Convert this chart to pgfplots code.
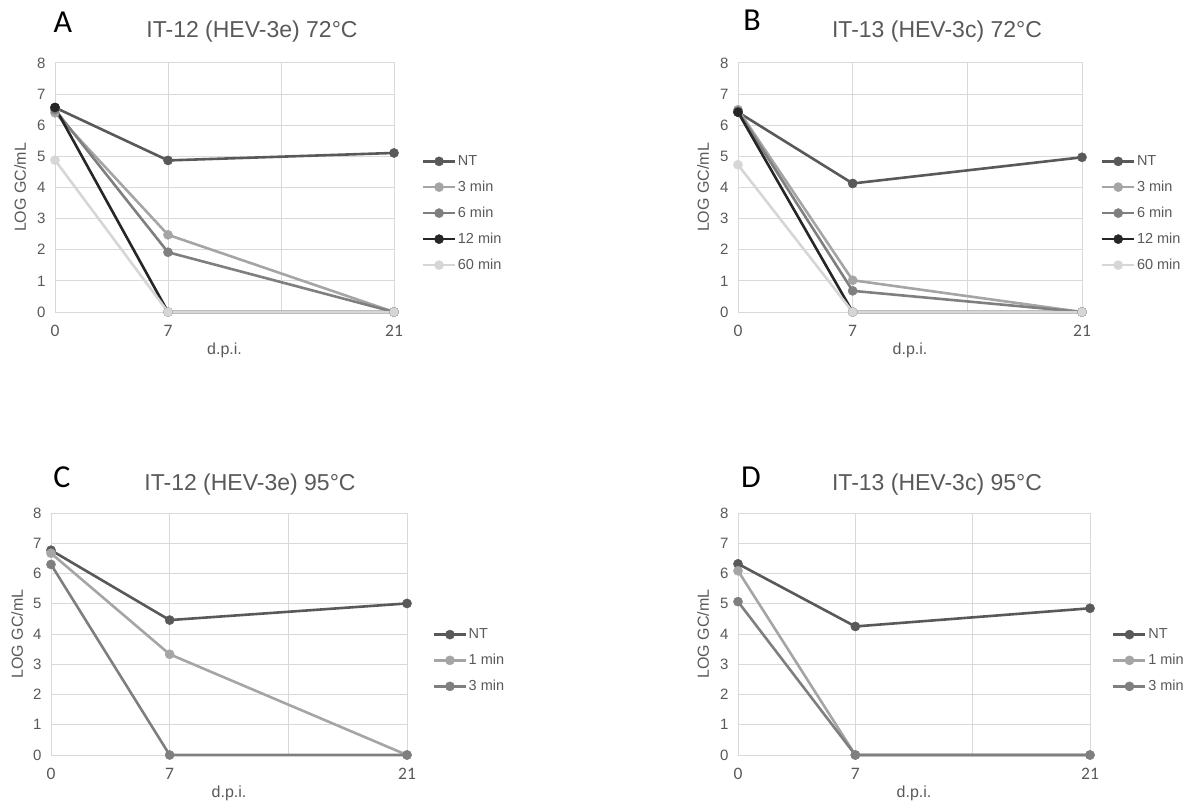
\documentclass[border=0pt]{standalone}
\usepackage{pgfplots}
\pgfplotsset{compat=1.18}
\usepackage{fontspec}
\setmainfont{Liberation Sans}
\newfontfamily\carlito{Carlito}

\definecolor{txt}{HTML}{595959}
\definecolor{gridc}{HTML}{D9D9D9}
\definecolor{cNT}{HTML}{595959}
\definecolor{cthree}{HTML}{A5A5A5}
\definecolor{csix}{HTML}{7F7F7F}
\definecolor{ctwelve}{HTML}{262626}
\definecolor{csixty}{HTML}{D6D6D6}

\pgfplotsset{
  panel/.style={
    scale only axis,
    xmin=0, xmax=21, ymin=0, ymax=8,
    xtick={0,7,14,21}, xticklabels={0,7,,21},
    ytick={0,1,...,8},
    grid=major,
    major grid style={draw=gridc, line width=1pt},
    axis line style={draw=gridc, line width=1pt},
    major tick length=0pt,
    clip=false,
    /pgf/number format/assume math mode=true,
    yticklabel style={font=\fontsize{15}{17}\selectfont, text=txt, xshift=-6pt},
    xticklabel style={font=\carlito\fontsize{17.5}{19}\selectfont, text=txt, yshift=-10pt},
    xlabel={d.p.i.}, ylabel={LOG GC/mL},
    xlabel style={font=\fontsize{16}{18}\selectfont, text=txt,
      at={(axis description cs:0.5,0)}, anchor=center, yshift=-38pt},
    ylabel style={font=\fontsize{16}{18}\selectfont, text=txt, anchor=center},
    legend style={draw=none, fill=none, inner sep=0pt, outer sep=0pt,
      font=\fontsize{14.5}{16}\selectfont, text=txt, anchor=west,
      row sep=11pt, nodes={inner sep=1.5pt}},
    legend cell align=left,
    legend image code/.code={
      \draw[mark repeat=2, mark phase=2] plot coordinates {(0pt,0pt) (16pt,0pt) (32pt,0pt)};},
    every axis plot/.append style={line width=2.6pt, mark=*, mark size=4.6pt,
      mark options={solid, line width=0.4pt}},
  },
}

\begin{document}
\begin{tikzpicture}
\path[use as bounding box] (0,0) rectangle (1192pt,-805pt);

% panel letters and titles
\node[anchor=base, font=\carlito\fontsize{32}{36}\selectfont] at (63pt,-33pt) {A};
\node[anchor=base, font=\carlito\fontsize{32}{36}\selectfont] at (752pt,-31pt) {B};
\node[anchor=base, font=\carlito\fontsize{32}{36}\selectfont] at (62pt,-487pt) {C};
\node[anchor=base, font=\carlito\fontsize{32}{36}\selectfont] at (751pt,-487pt) {D};
\node[anchor=base, text=txt, font=\fontsize{23}{26}\selectfont] at (252pt,-38pt) {IT-12 (HEV-3e) 72°C};
\node[anchor=base, text=txt, font=\fontsize{23}{26}\selectfont] at (937pt,-38pt) {IT-13 (HEV-3c) 72°C};
\node[anchor=base, text=txt, font=\fontsize{23}{26}\selectfont] at (250pt,-490pt) {IT-12 (HEV-3e) 95°C};
\node[anchor=base, text=txt, font=\fontsize{23}{26}\selectfont] at (937pt,-490pt) {IT-13 (HEV-3c) 95°C};

% A
\begin{axis}[panel, at={(55pt,-312pt)}, width=339pt, height=249pt,
  ylabel style={at={(axis description cs:-0.103,0.5)}},
  legend style={at={(axis description cs:1.082,0.396)}}]
\addplot[cNT] coordinates {(0,6.57) (7,4.87) (21,5.11)};
\addlegendentry{NT}
\addplot[cthree] coordinates {(0,6.40) (7,2.48) (21,0)};
\addlegendentry{3 min}
\addplot[csix] coordinates {(0,6.50) (7,1.92) (21,0)};
\addlegendentry{6 min}
\addplot[ctwelve] coordinates {(0,6.57) (7,0) (21,0)};
\addlegendentry{12 min}
\addplot[csixty] coordinates {(0,4.88) (7,0) (21,0)};
\addlegendentry{60 min}
\end{axis}

% B
\begin{axis}[panel, at={(738pt,-312pt)}, width=344pt, height=249pt,
  ylabel style={at={(axis description cs:-0.101,0.5)}},
  legend style={at={(axis description cs:1.055,0.396)}}]
\addplot[cNT] coordinates {(0,6.42) (7,4.13) (21,4.97)};
\addlegendentry{NT}
\addplot[cthree] coordinates {(0,6.50) (7,1.02) (21,0)};
\addlegendentry{3 min}
\addplot[csix] coordinates {(0,6.45) (7,0.68) (21,0)};
\addlegendentry{6 min}
\addplot[ctwelve] coordinates {(0,6.42) (7,0) (21,0)};
\addlegendentry{12 min}
\addplot[csixty] coordinates {(0,4.73) (7,0) (21,0)};
\addlegendentry{60 min}
\end{axis}

% C
\begin{axis}[panel, at={(51pt,-755pt)}, width=356pt, height=242pt,
  ylabel style={at={(axis description cs:-0.095,0.5)}},
  legend style={at={(axis description cs:1.072,0.390)}}]
\addplot[cNT] coordinates {(0,6.77) (7,4.46) (21,5.01)};
\addlegendentry{NT}
\addplot[cthree] coordinates {(0,6.67) (7,3.33) (21,0)};
\addlegendentry{1 min}
\addplot[csix] coordinates {(0,6.30) (7,0) (21,0)};
\addlegendentry{3 min}
\end{axis}

% D
\begin{axis}[panel, at={(738pt,-755pt)}, width=352pt, height=242pt,
  ylabel style={at={(axis description cs:-0.099,0.5)}},
  legend style={at={(axis description cs:1.063,0.390)}}]
\addplot[cNT] coordinates {(0,6.32) (7,4.25) (21,4.85)};
\addlegendentry{NT}
\addplot[cthree] coordinates {(0,6.09) (7,0) (21,0)};
\addlegendentry{1 min}
\addplot[csix] coordinates {(0,5.07) (7,0) (21,0)};
\addlegendentry{3 min}
\end{axis}
\end{tikzpicture}
\end{document}
